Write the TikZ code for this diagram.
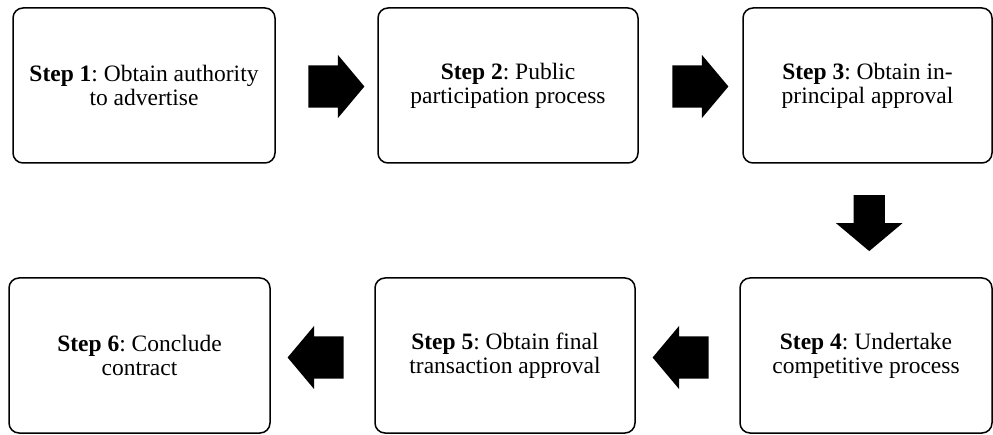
\documentclass[tikz,border=0pt]{standalone}
\usepackage{fontspec}
\setmainfont{Liberation Serif}
\usetikzlibrary{shapes.arrows,calc}

\tikzset{
  stepbox/.style={draw, line width=1.5pt, rounded corners=10pt, align=center,
    font=\fontsize{23.5}{24}\selectfont\frenchspacing, inner sep=0pt},
  blockarrow/.style={single arrow, fill=black, draw=none, inner xsep=0pt,
    inner ysep=21pt, single arrow head extend=10.5pt, single arrow tip angle=100,
    minimum height=56pt}
}

\begin{document}
\begin{tikzpicture}[x=1pt,y=-1pt]
    \useasboundingbox (0,0) rectangle (993,435);
    % top row
    \node[stepbox, minimum width=262pt, minimum height=155pt] (s1) at (144,85.5)
        {\textbf{Step 1}: Obtain authority\\to advertise};
    \node[stepbox, minimum width=260pt, minimum height=155pt] (s2) at (508,85.5)
        {\textbf{Step 2}: Public\\participation process};
    \node[stepbox, minimum width=249pt, minimum height=155pt] (s3) at (867.5,85.5)
        {\textbf{Step 3}: Obtain in-\\principal approval};
    % bottom row
    \node[stepbox, minimum width=252pt, minimum height=155pt] (s4) at (866,355.5)
        {\textbf{Step 4}: Undertake\\competitive process};
    \node[stepbox, minimum width=260pt, minimum height=155pt] (s5) at (505,355.5)
        {\textbf{Step 5}: Obtain final\\transaction approval};
    \node[stepbox, minimum width=261pt, minimum height=155pt] (s6) at (139.5,355.5)
        {\textbf{Step 6}: Conclude\\contract};
    % arrows between the steps
    \node[blockarrow] (a12) at ($(s1.east)!0.5!(s2.west)+(1,1)$) {};
    \node[blockarrow] (a23) at ($(s2.east)!0.5!(s3.west)+(1,1)$) {};
    \node[blockarrow, shape border rotate=270, inner xsep=15.5pt, inner ysep=0pt,
        single arrow head extend=17.5pt] (a34) at ($(s3.south)!0.5!(s4.north)+(2.5,-4)$) {};
    \node[blockarrow, shape border rotate=180] (a45) at ($(s4.west)!0.5!(s5.east)+(2,2)$) {};
    \node[blockarrow, shape border rotate=180] (a56) at ($(s5.west)!0.5!(s6.east)+(2,2)$) {};
\end{tikzpicture}
\end{document}
